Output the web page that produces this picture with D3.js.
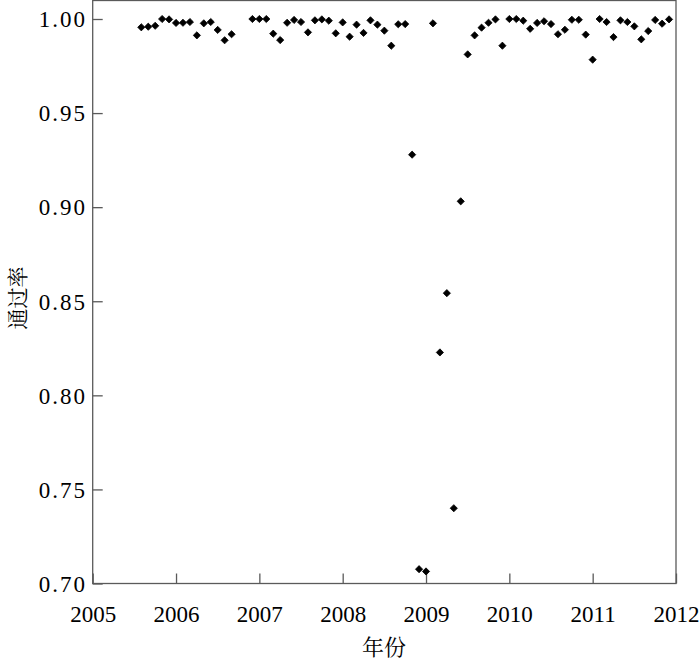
<!DOCTYPE html>
<html>
<head>
<meta charset="utf-8">
<script src="https://cdn.jsdelivr.net/npm/d3@7"></script>
<style>
html,body{margin:0;padding:0;background:#fff;}
svg{display:block;}
.serif{font-family:"Liberation Serif","Times New Roman",Times,serif;}
.cjk{font-family:"Noto Serif CJK SC","Noto Sans CJK SC",serif;}
</style>
</head>
<body>
<svg id="chart" width="700" height="660"></svg>
<script>
const months = ["2005-08","2005-09","2005-10","2005-11","2005-12",
"2006-01","2006-02","2006-03","2006-04","2006-05","2006-06","2006-07","2006-08","2006-09","2006-12",
"2007-01","2007-02","2007-03","2007-04","2007-05","2007-06","2007-07","2007-08","2007-09","2007-10","2007-11","2007-12",
"2008-01","2008-02","2008-03","2008-04","2008-05","2008-06","2008-07","2008-08","2008-09","2008-10","2008-11","2008-12",
"2009-01","2009-02","2009-03","2009-04","2009-05","2009-06","2009-07","2009-08","2009-09","2009-10","2009-11","2009-12",
"2010-01","2010-02","2010-03","2010-04","2010-05","2010-06","2010-07","2010-08","2010-09","2010-10","2010-11","2010-12",
"2011-01","2011-02","2011-03","2011-04","2011-05","2011-06","2011-07","2011-08","2011-09","2011-10","2011-11","2011-12"];
const passRate = [0.9956,0.9959,0.9964,1.000,0.9998,
0.9979,0.9980,0.9984,0.9913,0.9977,0.9984,0.9942,0.9887,0.9919,1.000,
1.000,1.000,0.9922,0.9888,0.9980,0.9995,0.9984,0.9929,0.9993,0.9998,0.9991,0.9924,
0.9982,0.9906,0.9970,0.9926,0.9993,0.9970,0.9938,0.9858,0.9972,0.9973,0.9279,0.7076,
0.7064,0.9977,0.8228,0.8543,0.7400,0.9031,0.9812,0.9913,0.9954,0.9980,0.9998,0.9858,
1.000,1.000,0.9991,0.9948,0.9979,0.9988,0.9973,0.9919,0.9943,0.9996,0.9996,0.9917,
0.9784,1.000,0.9984,0.9904,0.9993,0.9984,0.9961,0.9892,0.9936,0.9995,0.9975,0.9998];
const xTicks = [2005,2006,2007,2008,2009,2010,2011,2012];
const yTicks = [0.70,0.75,0.80,0.85,0.90,0.95,1.00];
const xTitle = "年份";
const yTitle = "通过率";

const data = months.map((m,i)=>{
  const [yr,mo] = m.split("-").map(Number);
  return {x: yr + (mo-1)/12, y: passRate[i]};
});

const svg = d3.select("#chart");
const L = 92.7, R = 676, T = 0.5, B = 583.5;
const x = d3.scaleLinear().domain([2005,2012]).range([L,R]);
const y = d3.scaleLinear().domain([0.70,1.00]).range([B,19]);
const axisColor = "#5a5a5a";

// frame
svg.append("rect").attr("x",L).attr("y",T).attr("width",R-L).attr("height",B-T)
  .attr("fill","none").attr("stroke",axisColor).attr("stroke-width",1.3);

// x axis
const gx = svg.append("g").attr("transform",`translate(0,${B})`)
  .call(d3.axisBottom(x).tickValues(xTicks).tickFormat(d3.format("d")).tickSizeInner(-10).tickSizeOuter(0).tickPadding(0));
gx.attr("font-family",null).attr("font-size",null);
gx.select(".domain").remove();
gx.selectAll("line").attr("stroke",axisColor).attr("stroke-width",1.3);
gx.selectAll("text").attr("class","serif").style("font-size","23px").attr("fill","#000")
  .attr("dy",null).attr("y",38.5);

// y axis
const gy = svg.append("g").attr("transform",`translate(${L},0)`)
  .call(d3.axisLeft(y).tickValues(yTicks).tickFormat(d3.format(".2f")).tickSizeInner(-10).tickSizeOuter(0).tickPadding(0));
gy.attr("font-family",null).attr("font-size",null);
gy.select(".domain").remove();
gy.selectAll("line").attr("stroke",axisColor).attr("stroke-width",1.3);
gy.selectAll("text").attr("class","serif").style("font-size","23px").attr("fill","#000")
  .attr("x",-5.7).attr("dy","0.34em").style("letter-spacing","2px");

// points
const diamond = "M0,-3.6L3.6,0L0,3.6L-3.6,0Z";
svg.append("g").selectAll("path").data(data).join("path")
  .attr("d",diamond)
  .attr("transform",d=>`translate(${x(d.x)},${y(d.y)})`)
  .attr("fill","#000").attr("stroke","#000").attr("stroke-width",0.8).attr("stroke-linejoin","round");

// titles
svg.append("text").attr("class","cjk").attr("x",384).attr("y",655).attr("text-anchor","middle")
  .style("font-size","22px").attr("fill","#000").text(xTitle);
svg.append("text").attr("class","cjk").attr("transform","translate(25,298) rotate(-90)").attr("text-anchor","middle")
  .style("font-size","21px").attr("fill","#000").text(yTitle);
</script>
</body>
</html>
